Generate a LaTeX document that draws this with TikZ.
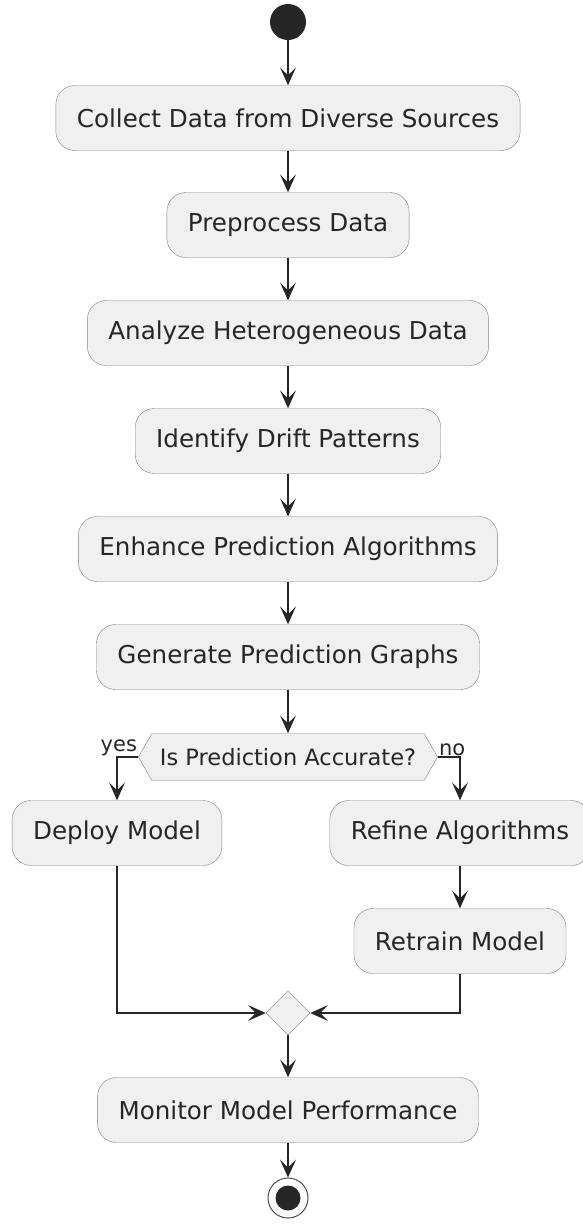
\documentclass[tikz,border=0pt]{standalone}
\usepackage{fontspec}
\setmainfont{DejaVu Sans}
\usetikzlibrary{arrows.meta,shapes.geometric,shapes.symbols}

\begin{document}
\begin{tikzpicture}[x=1pt,y=-1pt,
    act/.style={draw=black!50, fill=black!6, rounded corners=19pt, minimum height=65pt,
      inner xsep=21pt, font=\fontsize{24.6}{28}\selectfont, text=black!85},
    flow/.style={-{Stealth[length=18pt,width=16pt,inset=8pt]}, line width=1.2pt, draw=black!85},
    lbl/.style={font=\fontsize{21}{24}\selectfont, text=black!85, inner sep=1pt}]
    \useasboundingbox (0,0) rectangle (583,1229);

    \node[circle, fill=black!85, minimum size=36pt] (start) at (288,22) {};
    \node[act] (collect) at (288,118) {Collect Data from Diverse Sources};
    \node[act] (prep) at (288,225) {Preprocess Data};
    \node[act] (analyze) at (288,333) {Analyze Heterogeneous Data};
    \node[act] (drift) at (288,441) {Identify Drift Patterns};
    \node[act] (enhance) at (288,549) {Enhance Prediction Algorithms};
    \node[act] (graphs) at (288,657) {Generate Prediction Graphs};

    \node[signal, signal to=west and east, signal pointer angle=120, draw=black!50, fill=black!6,
      minimum height=47pt, inner xsep=8pt, font=\fontsize{22.5}{26}\selectfont, text=black!85]
      (check) at (288,757) {Is Prediction Accurate?};

    \node[act] (deploy) at (117,833) {Deploy Model};
    \node[act] (refine) at (460,833) {Refine Algorithms};
    \node[act] (retrain) at (460,941) {Retrain Model};
    \node[diamond, draw=black!50, fill=black!6, minimum width=44pt, minimum height=44pt,
      inner sep=0pt] (merge) at (288,1013) {};
    \node[act] (monitor) at (288,1110) {Monitor Model Performance};
    \node[circle, draw=black!70, line width=1pt, minimum size=40pt] (stop) at (288,1198) {};
    \fill[black!85] (stop) circle (12.5);

    \node[lbl, anchor=south east] (yes) at (check.west) {yes};
    \node[lbl, anchor=south west] (no) at (check.east) {no};

    % main column
    \draw[flow] (start) -- (collect);
    \draw[flow] (collect) -- (prep);
    \draw[flow] (prep) -- (analyze);
    \draw[flow] (analyze) -- (drift);
    \draw[flow] (drift) -- (enhance);
    \draw[flow] (enhance) -- (graphs);
    \draw[flow] (graphs.south) -- (graphs.south|-check.north);

    % branches
    \draw[flow] (check.west) -| (deploy.north);
    \draw[flow] (check.east) -| (refine.north);
    \draw[flow] (refine) -- (retrain);
    \draw[flow] (deploy.south) |- (merge.west);
    \draw[flow] (retrain.south) |- (merge.east);

    \draw[flow] (merge) -- (monitor);
    \draw[flow] (monitor) -- (stop);
\end{tikzpicture}
\end{document}
